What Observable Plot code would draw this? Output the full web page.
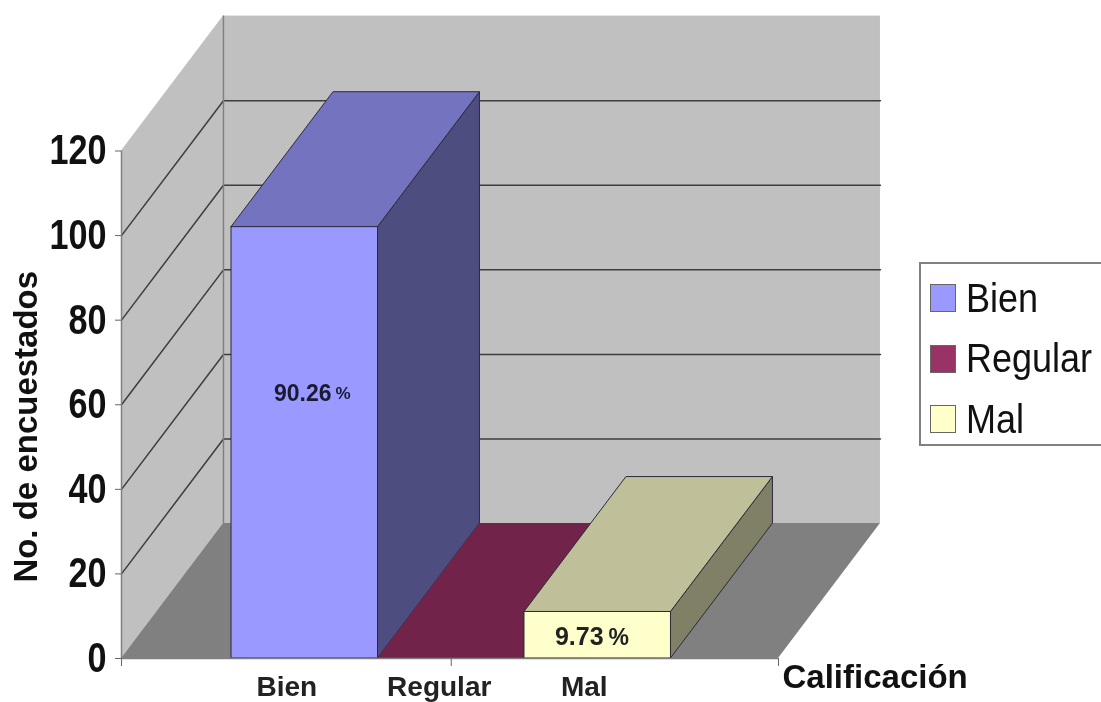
<!DOCTYPE html>
<html lang="es">
<head>
<meta charset="utf-8">
<script src="https://cdn.jsdelivr.net/npm/d3@7"></script>
<script src="https://cdn.jsdelivr.net/npm/@observablehq/plot@0.6"></script>
<style>
  html, body { margin: 0; padding: 0; background: #fff; overflow: hidden; }
  #chart { position: relative; width: 1101px; height: 702px; filter: blur(0.5px); }
  #chart svg { display: block; }
  .legend { position: absolute; left: 919px; top: 262px; width: 182px; height: 180px;
    border: 2px solid #808080; border-right: none; box-sizing: content-box;
    font-family: "Liberation Sans", Arial, sans-serif; font-size: 40px; color: #111; background: #fff; }
  .legend div { position: absolute; left: 9px; display: flex; align-items: center; height: 30px; }
  .legend i { display: block; width: 24px; height: 26px; border: 1.5px solid #666; margin-right: 10px; }
  .legend span { display: inline-block; transform: scaleX(0.9); transform-origin: left center; }
</style>
</head>
<body>
<div id="chart"></div>
<script>
const categories = ["Bien", "Regular", "Mal"];
const counts = [102, 0, 11];
const shares = ["90.26", null, "9.73"];
const yTicks = [0, 20, 40, 60, 80, 100, 120];

const frontColors = ["#9999FF", "#993366", "#FFFFCC"];
const topColors = ["#7373BF", "#722349", "#BFBF99"];
const sideColors = ["#4D4D80", "#4D1A33", "#808066"];

const x0 = -0.751, x1 = 3.734, yMax = 120;
const dX = 0.696, dY = 31.9;          // depth of the 3-D projection, in scale units
const xTicks = [x0, 1.5, x1];
const sans = "Liberation Sans, Arial, sans-serif";

const bars = categories.map((name, i) => ({name, i, v: counts[i]}));
const gridRows = yTicks.filter(t => t > 0 && t < yMax).flatMap(t => [
  {t, x: x0, y: t}, {t, x: x0 + dX, y: t + dY}, {t, x: x1 + dX, y: t + dY}
]);

const topFace = b => Plot.areaX(
  [{y: b.v, a: b.i, c: b.i + 1}, {y: b.v + dY, a: b.i + dX, c: b.i + 1 + dX}],
  {y: "y", x1: "a", x2: "c", fill: topColors[b.i], stroke: "#2a2a3a", strokeWidth: b.v > 0 ? 1 : 0});
const sideFace = b => Plot.areaY(
  [{x: b.i + 1, a: 0, c: b.v}, {x: b.i + 1 + dX, a: dY, c: b.v + dY}],
  {x: "x", y1: "a", y2: "c", fill: sideColors[b.i], stroke: "#2a2a3a", strokeWidth: 1});
const frontFace = b => Plot.rect([b],
  {x1: d => d.i, x2: d => d.i + 1, y1: 0, y2: "v", fill: frontColors[b.i], stroke: "#2a2a3a", strokeWidth: 1});

const chart = Plot.plot({
  width: 1101, height: 702,
  marginLeft: 121, marginRight: 323, marginTop: 150.5, marginBottom: 44,
  x: {domain: [x0, x1]},
  y: {domain: [0, yMax]},
  style: {background: "transparent"},
  marks: [
    // walls and floor
    Plot.areaY([{x: x0, a: 0, c: yMax}, {x: x0 + dX, a: dY, c: yMax + dY}],
      {x: "x", y1: "a", y2: "c", fill: "#C0C0C0"}),
    Plot.rect([{}], {x1: x0 + dX, x2: x1 + dX, y1: dY, y2: yMax + dY, fill: "#C0C0C0"}),
    Plot.line(gridRows, {x: "x", y: "y", z: "t", stroke: "#3d3d3d", strokeWidth: 1.5}),
    Plot.ruleX([x0 + dX], {y1: dY, y2: yMax + dY, stroke: "#808080", strokeWidth: 1.5}),
    Plot.areaX([{y: 0, a: x0, c: x1}, {y: dY, a: x0 + dX, c: x1 + dX}],
      {y: "y", x1: "a", x2: "c", fill: "#808080"}),

    // bars, back to front
    ...bars.filter(b => b.v > 0).map(sideFace),
    ...bars.map(topFace),
    ...bars.filter(b => b.v > 0).map(frontFace),

    // axes
    Plot.ruleX([x0], {y1: 0, y2: yMax, stroke: "#808080", strokeWidth: 1.5}),
    Plot.ruleY([0], {x1: x0, x2: x1, stroke: "#808080", strokeWidth: 1.5}),
    Plot.axisY(yTicks, {anchor: "left", label: null, tickSize: 6, tickPadding: 9, stroke: "#666",
      fill: "#111", fontSize: 42, fontWeight: "bold", fontFamily: sans}),
    Plot.axisX(xTicks, {anchor: "bottom", label: null, tickSize: 8, tickFormat: () => "", stroke: "#666"}),

    // category labels
    ...bars.map((b, k) => Plot.text([b.name], {
      x: b.i + 0.5, y: 0, text: d => d, dx: [-18, -12, -13.5][k], dy: 29,
      fontSize: 28, fontWeight: "bold", fontFamily: sans, fill: "#222"
    })),

    // axis titles
    Plot.text(["Calificación"], {x: x1, y: 0, text: d => d, dx: 4, dy: 19, textAnchor: "start",
      fontSize: 33, fontWeight: "bold", fontFamily: sans, fill: "#111"}),
    Plot.text(["No. de encuestados"], {x: x0, y: 54.8, text: d => d, dx: -95, rotate: -90,
      fontSize: 33, fontWeight: "bold", fontFamily: sans, fill: "#111"}),

    // share labels on the bars
    Plot.text([shares[0]], {x: 0.683, y: 62.6, text: d => d, textAnchor: "end",
      fontSize: 23, fontWeight: "bold", fontFamily: sans, fill: "#1a1a33"}),
    Plot.text(["%"], {x: 0.683, y: 62.6, text: d => d, textAnchor: "start", dx: 4,
      fontSize: 17, fontWeight: "bold", fontFamily: sans, fill: "#1a1a33"}),
    Plot.text([shares[2]], {x: 2.54, y: 5, text: d => d, textAnchor: "end",
      fontSize: 25, fontWeight: "bold", fontFamily: sans, fill: "#222"}),
    Plot.text(["%"], {x: 2.54, y: 5, text: d => d, textAnchor: "start", dx: 5,
      fontSize: 23, fontWeight: "bold", fontFamily: sans, fill: "#222"})
  ]
});

// The reference's tick numerals are tall and condensed.
d3.select(chart).selectAll('g[aria-label="y-axis tick label"] text')
  .attr("lengthAdjust", "spacingAndGlyphs")
  .attr("textLength", function () { return this.textContent.length * 19; });

const host = document.getElementById("chart");
host.appendChild(chart);

const legend = document.createElement("div");
legend.className = "legend";
categories.forEach((name, i) => {
  const row = document.createElement("div");
  row.style.top = (19 + i * 60.5) + "px";
  const swatch = document.createElement("i");
  swatch.style.background = frontColors[i];
  const label = document.createElement("span");
  label.textContent = name;
  row.appendChild(swatch);
  row.appendChild(label);
  legend.appendChild(row);
});
host.appendChild(legend);
</script>
</body>
</html>
